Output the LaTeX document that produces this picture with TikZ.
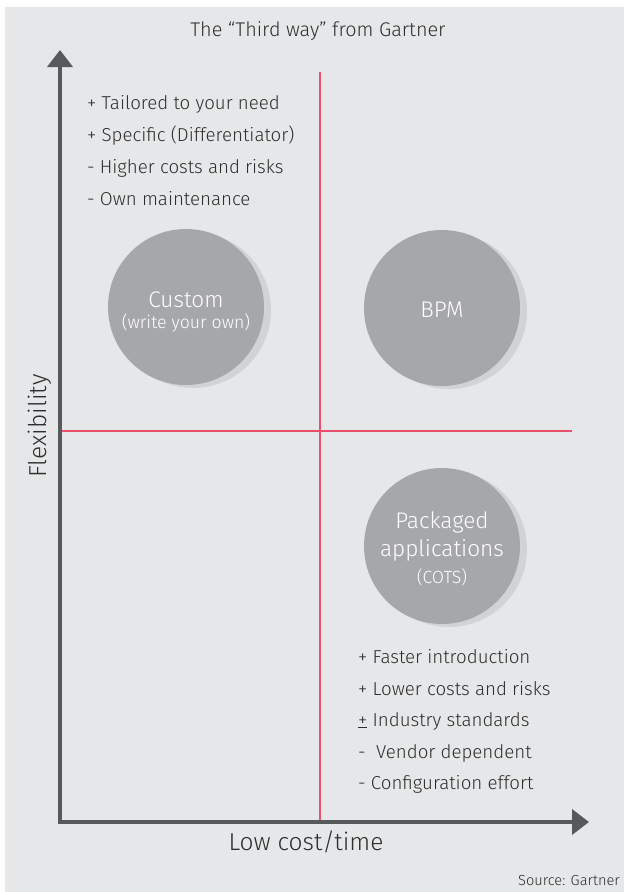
\documentclass[tikz,border=0pt]{standalone}
\usepackage{fontspec}
\setmainfont{Fira Sans}[UprightFont=* Light]
\usetikzlibrary{arrows.meta,shadows}
\definecolor{bggrey}{HTML}{E6E7E8}
\definecolor{txtgrey}{HTML}{2E2E2E}
\definecolor{circgrey}{HTML}{A6A7AA}
\definecolor{shadgrey}{HTML}{D2D3D5}
\definecolor{quadred}{HTML}{E9506B}
\definecolor{axisgrey}{HTML}{58595B}
\tikzset{
  axisline/.style={draw=axisgrey, line width=4pt, -{Triangle[width=25pt,length=17pt]}},
  redline/.style={draw=quadred, line width=2pt},
  bubble/.style={circle, fill=circgrey, minimum size=156pt, inner sep=0pt,
     drop shadow={shadow xshift=7pt, shadow yshift=-3pt, fill=shadgrey, opacity=1}},
  bigw/.style={text=white, inner sep=0pt, font=\fontsize{22.6}{22.6}\selectfont},
  smallw/.style={text=white, inner sep=0pt, font=\fontsize{17.7}{17.7}\selectfont},
  listtext/.style={anchor=west, text=txtgrey, font=\fontsize{18.7}{18.7}\selectfont, inner sep=0pt},
  labeltext/.style={text=txtgrey, font=\fontsize{24.5}{24.5}\selectfont, inner sep=0pt},
}
\begin{document}
\begin{tikzpicture}[x=1pt,y=-1pt]
\useasboundingbox (0,0) rectangle (624,892);
\fill[white] (0,0) rectangle (624,892);
\fill[bggrey] (5,7) rectangle (624,892);
\node[text=txtgrey, font=\fontsize{19.8}{19.8}\selectfont, inner sep=0pt] (title) at (318,31) {The “Third way” from Gartner};
% axes
\coordinate (O) at (60,822);
\coordinate (ytip) at (60,50);
\coordinate (xtip) at (589,822);
\coordinate (vtop) at (320,72);
\coordinate (vbot) at (320,822);
\coordinate (hl) at (62,431);
\coordinate (hr) at (572,431);
\draw[redline] (vtop) -- (vbot);
\draw[redline] (hl) -- (hr);
\draw[axisline] ([yshift=-2pt]O) -- (ytip);
\draw[axisline] ([xshift=-2pt]O) -- (xtip);
\node[labeltext, rotate=90] (ylab) at (40,426) {Flexibility};
\node[labeltext] (xlab) at (306,842) {Low cost/time};
\node[anchor=east, text=txtgrey, font=\fontsize{14.6}{14.6}\selectfont, inner sep=0pt] (src) at (620,880) {Source: Gartner};
% bubbles
\node[bubble] (custom) at (186,307) {};
\node[bigw] (customt) at (186,300) {Custom};
\node[smallw] (customs) at (186,323) {(write your own)};
\node[bubble] (bpm) at (442,308) {};
\node[bigw] (bpmt) at (442,310) {BPM};
\node[bubble] (cots) at (442,546) {};
\node[bigw] (cots1) at (442,522) {Packaged};
\node[bigw] (cots2) at (442,550) {applications};
\node[smallw] (cots3) at (442,577) {(COTS)};
% lists
\node[listtext] (l1) at (87,104) {+ Tailored to your need};
\node[listtext] (l2) at (87,136) {+ Specific (Differentiator)};
\node[listtext] (l3) at (87,168) {- Higher costs and risks};
\node[listtext] (l4) at (87,199) {- Own maintenance};
\node[listtext] (r1) at (358,657) {+ Faster introduction};
\node[listtext] (r2) at (358,689) {+ Lower costs and risks};
\node[listtext] (r3) at (358,721) {\underline{+} Industry standards};
\node[listtext] (r4) at (358,753) {-\ \ Vendor dependent};
\node[listtext] (r5) at (358,784) {- Configuration effort};
\end{tikzpicture}
\end{document}
